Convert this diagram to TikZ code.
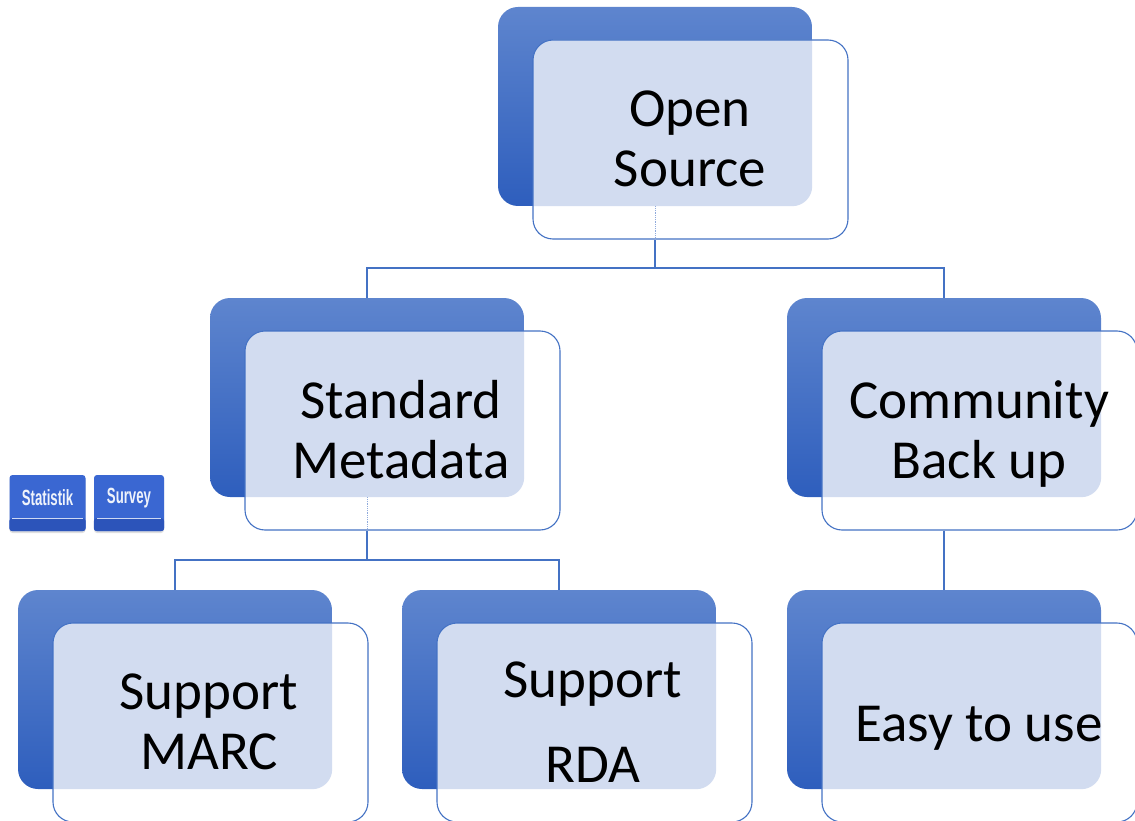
\documentclass[tikz,border=0pt]{standalone}
\usepackage{fontspec}
\usetikzlibrary{shadows}
\setmainfont{Carlito}
\newfontfamily\btnfont{Liberation Sans}
\definecolor{lineblue}{RGB}{68,114,196}
\definecolor{gradtop}{RGB}{94,133,206}
\definecolor{gradbot}{RGB}{46,94,189}
\definecolor{overlapc}{RGB}{210,220,240}
\definecolor{btnblue}{RGB}{58,103,210}
\definecolor{btndark}{RGB}{44,84,186}
\begin{document}
\begin{tikzpicture}[x=1pt,y=-1pt,
  backbox/.style={rectangle, rounded corners=20pt, minimum width=314pt, minimum height=199pt,
    inner sep=0pt, top color=gradtop, bottom color=gradbot, draw=none},
  frontbox/.style={rectangle, rounded corners=20pt, minimum width=315pt, minimum height=199pt,
    inner sep=0pt, fill=white, draw=lineblue, line width=1.1pt},
  txt/.style={font=\fontsize{55}{60}\selectfont, align=center, inner sep=0pt, text=black},
  conn/.style={draw=lineblue, line width=1.3pt},
  faint/.style={draw=lineblue!60, line width=0.8pt, densely dotted},
  btn/.style={rectangle, rounded corners=3pt, fill=btnblue, inner sep=0pt,
    minimum height=56pt,
    drop shadow={shadow xshift=0pt, shadow yshift=-2pt, opacity=.25}},
  btntext/.style={text=white!92!btnblue, font=\btnfont\bfseries\fontsize{22}{22}\selectfont, inner sep=0pt},
]
\useasboundingbox (0,0) rectangle (1135,821);
\clip (0,0) rectangle (1135,821);
% helper macro to draw a box pair
\newcommand\boxpair[3]{% name, back x, back y
  \node[backbox] (#1b) at (#2+157,#3+99.5) {};
  \node[frontbox, path picture={\fill[overlapc, rounded corners=20pt] (#1b.north west) rectangle (#1b.south east);}]
    (#1f) at (#2+35+157.5,#3+33+99.5) {};
}
\boxpair{os}{498}{7}
\boxpair{sm}{210}{298}
\boxpair{cb}{787}{298}
\boxpair{ma}{18}{590}
\boxpair{rd}{402}{590}
\boxpair{eu}{787}{590}

% texts
\node[txt] (tos) at (690,139) {Open\\Source};
\node[txt] (tsm) at (401,430) {Standard\\Metadata};
\node[txt] (tcb) at (979,434) {Community\\Back up};
\node[txt] (tma) at (209,722) {Support\\MARC};
\node[txt, font=\fontsize{55}{85}\selectfont] (trd) at (593,722) {Support\\RDA};
\node[txt, anchor=base] (teu) at (979,741) {Easy to use};

% connectors
\coordinate (j1) at (655,268);
\coordinate (j2) at (367,560);
\draw[faint] (osb.south) -- (osb.south |- osf.south);
\draw[conn] (osb.south |- osf.south) -- (j1) -| (smb.north);
\draw[conn] (j1) -| (cbb.north);
\draw[faint] (smb.south) -- (smb.south |- smf.south);
\draw[conn] (smb.south |- smf.south) -- (j2) -| (mab.north);
\draw[conn] (j2) -| (rdb.north);
\draw[conn] (cbb.south |- cbf.south) -- (eub.north);

% buttons
\node[btn, minimum width=76pt] (b1) at (47.5,503) {};
\node[btn, minimum width=70pt] (b2) at (129,503) {};
\foreach \b in {b1,b2}{
  \fill[btndark, rounded corners=3pt] (\b.south west) rectangle ([yshift=13pt]\b.south east);
  \draw[white!75!btnblue, line width=0.6pt] ([xshift=3pt,yshift=13pt]\b.south west) -- ([xshift=-3pt,yshift=13pt]\b.south east);
}
\node[btntext] (l1) at (47.5,498) {\scalebox{0.6}[1]{Statistik}};
\node[btntext] (l2) at (129,498) {\scalebox{0.6}[1]{Survey}};
\end{tikzpicture}
\end{document}
